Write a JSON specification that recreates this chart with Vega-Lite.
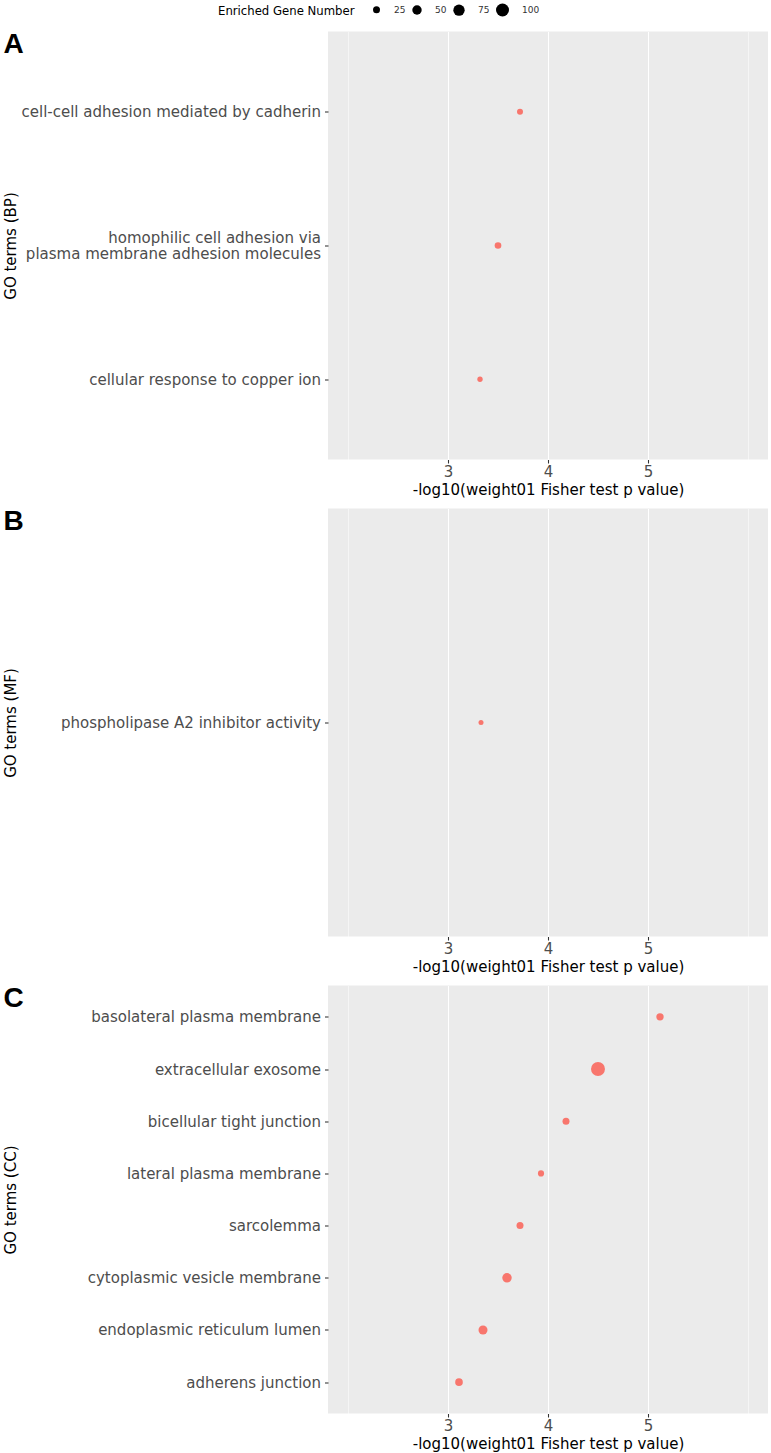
{
  "$schema": "https://vega.github.io/schema/vega-lite/v6.json",
  "autosize": {"type": "pad"},
  "padding": {"left": 3, "top": 3.5, "right": 0, "bottom": 0},
  "background": "white",
  "config": {
    "font": "DejaVu Sans",
    "view": {"fill": "#EBEBEB", "stroke": null},
    "legend": {"symbolBaseFillColor": "#000000", "symbolBaseStrokeColor": "#000000"},
    "axis": {
      "labelFont": "DejaVu Sans",
      "labelFontSize": 15,
      "labelColor": "#4D4D4D",
      "titleFont": "DejaVu Sans",
      "titleFontSize": 15,
      "titleFontWeight": "normal",
      "titleColor": "#000000",
      "tickColor": "#333333",
      "tickWidth": 1.07,
      "tickSize": 3.5,
      "domain": false,
      "gridColor": "#FFFFFF",
      "gridWidth": 1.07,
      "gridOpacity": 1
    }
  },
  "datasets": {
    "go": [
      {"panel": "BP", "term": "cell-cell adhesion mediated by cadherin", "score": 3.72, "genes": 17},
      {"panel": "BP", "term": "homophilic cell adhesion via\nplasma membrane adhesion molecules", "score": 3.50, "genes": 22},
      {"panel": "BP", "term": "cellular response to copper ion", "score": 3.32, "genes": 12},
      {"panel": "MF", "term": "phospholipase A2 inhibitor activity", "score": 3.33, "genes": 10},
      {"panel": "CC", "term": "basolateral plasma membrane", "score": 5.12, "genes": 28},
      {"panel": "CC", "term": "extracellular exosome", "score": 4.50, "genes": 116},
      {"panel": "CC", "term": "bicellular tight junction", "score": 4.18, "genes": 25},
      {"panel": "CC", "term": "lateral plasma membrane", "score": 3.93, "genes": 18},
      {"panel": "CC", "term": "sarcolemma", "score": 3.72, "genes": 25},
      {"panel": "CC", "term": "cytoplasmic vesicle membrane", "score": 3.59, "genes": 50},
      {"panel": "CC", "term": "endoplasmic reticulum lumen", "score": 3.35, "genes": 45},
      {"panel": "CC", "term": "adherens junction", "score": 3.11, "genes": 31}
    ]
  },
  "spacing": 10,
  "resolve": {"scale": {"size": "shared", "color": "shared"}, "legend": {"size": "shared"}},
  "vconcat": [
    {
      "title": {"text": "A", "anchor": "start", "frame": "bounds", "font": "Liberation Sans", "fontSize": 28, "fontWeight": "bold", "color": "#000000", "baseline": "top", "offset": -27},
      "width": 440,
      "height": 428,
      "data": {"name": "go"},
      "transform": [{"filter": "datum.panel == 'BP'"}],
      "mark": {"type": "point", "filled": true, "opacity": 1},
      "encoding": {
        "x": {
          "field": "score", "type": "quantitative",
          "scale": {"domain": [1.8, 6.2], "nice": false, "zero": false},
          "axis": {
            "title": "-log10(weight01 Fisher test p value)",
            "values": [2, 2.5, 3, 3.5, 4, 4.5, 5, 5.5, 6],
            "format": "d",
            "labelExpr": "(datum.value == 3 || datum.value == 4 || datum.value == 5) ? datum.label : ''",
            "gridWidth": {"condition": {"test": "datum.value == 3 || datum.value == 4 || datum.value == 5", "value": 1.07}, "value": 0.53},
            "tickOpacity": {"condition": {"test": "datum.value == 3 || datum.value == 4 || datum.value == 5", "value": 1}, "value": 0},
            "labelPadding": 1,
            "titlePadding": 3.5,
            "labelFlush": false,
            "labelOverlap": false
          }
        },
        "y": {
          "field": "term", "type": "nominal", "sort": null,
          "scale": {"type": "point", "padding": 0.6},
          "axis": {
            "title": "GO terms (BP)",
            "titleX": -312.5,
            "titleBaseline": "alphabetic",
            "labelPadding": 4,
            "labelLimit": 500,
            "labelExpr": "split(datum.label, '\\n')",
            "labelLineHeight": 16,
            "labelBaseline": "middle",
            "labelOffset": {"condition": {"test": "indexof(datum.label, '\\n') >= 0", "value": -8}, "value": 0}
          }
        },
        "color": {
          "field": "panel", "type": "nominal",
          "scale": {"domain": ["BP", "MF", "CC"], "range": ["#F8766D", "#F8766D", "#F8766D"]},
          "legend": null
        },
        "size": {
          "field": "genes", "type": "quantitative",
          "scale": {"domain": [0, 120], "range": [9, 201]},
          "legend": {
            "title": "Enriched Gene Number",
            "orient": "none", "legendX": -110, "legendY": -28,
            "direction": "horizontal", "titleOrient": "left",
            "titleAnchor": "middle", "titleBaseline": "middle",
            "values": [25, 50, 75, 100],
            "titleFontSize": 11.7, "titleFontWeight": "normal", "titleColor": "#000000",
            "labelFontSize": 9, "labelColor": "#333333",
            "labelOffset": 13, "columnPadding": 6, "titlePadding": 17,
            "symbolType": "circle", "symbolStrokeWidth": 0, "symbolOpacity": 1
          }
        }
      }
    },
    {
      "title": {"text": "B", "anchor": "start", "frame": "bounds", "font": "Liberation Sans", "fontSize": 28, "fontWeight": "bold", "color": "#000000", "baseline": "top", "offset": -27},
      "width": 440,
      "height": 428,
      "data": {"name": "go"},
      "transform": [{"filter": "datum.panel == 'MF'"}],
      "mark": {"type": "point", "filled": true, "opacity": 1},
      "encoding": {
        "x": {
          "field": "score", "type": "quantitative",
          "scale": {"domain": [1.8, 6.2], "nice": false, "zero": false},
          "axis": {
            "title": "-log10(weight01 Fisher test p value)",
            "values": [2, 2.5, 3, 3.5, 4, 4.5, 5, 5.5, 6],
            "format": "d",
            "labelExpr": "(datum.value == 3 || datum.value == 4 || datum.value == 5) ? datum.label : ''",
            "gridWidth": {"condition": {"test": "datum.value == 3 || datum.value == 4 || datum.value == 5", "value": 1.07}, "value": 0.53},
            "tickOpacity": {"condition": {"test": "datum.value == 3 || datum.value == 4 || datum.value == 5", "value": 1}, "value": 0},
            "labelPadding": 1,
            "titlePadding": 3.5,
            "labelFlush": false,
            "labelOverlap": false
          }
        },
        "y": {
          "field": "term", "type": "nominal", "sort": null,
          "scale": {"type": "point", "padding": 0.6},
          "axis": {
            "title": "GO terms (MF)",
            "titleX": -312.5,
            "titleBaseline": "alphabetic",
            "labelPadding": 4,
            "labelLimit": 500,
            "labelExpr": "split(datum.label, '\\n')",
            "labelLineHeight": 16,
            "labelBaseline": "middle",
            "labelOffset": {"condition": {"test": "indexof(datum.label, '\\n') >= 0", "value": -8}, "value": 0}
          }
        },
        "color": {
          "field": "panel", "type": "nominal",
          "scale": {"domain": ["BP", "MF", "CC"], "range": ["#F8766D", "#F8766D", "#F8766D"]},
          "legend": null
        },
        "size": {
          "field": "genes", "type": "quantitative",
          "scale": {"domain": [0, 120], "range": [9, 201]},
          "legend": {
            "title": "Enriched Gene Number",
            "orient": "none", "legendX": -110, "legendY": -28,
            "direction": "horizontal", "titleOrient": "left",
            "titleAnchor": "middle", "titleBaseline": "middle",
            "values": [25, 50, 75, 100],
            "titleFontSize": 11.7, "titleFontWeight": "normal", "titleColor": "#000000",
            "labelFontSize": 9, "labelColor": "#333333",
            "labelOffset": 13, "columnPadding": 6, "titlePadding": 17,
            "symbolType": "circle", "symbolStrokeWidth": 0, "symbolOpacity": 1
          }
        }
      }
    },
    {
      "title": {"text": "C", "anchor": "start", "frame": "bounds", "font": "Liberation Sans", "fontSize": 28, "fontWeight": "bold", "color": "#000000", "baseline": "top", "offset": -27},
      "width": 440,
      "height": 428,
      "data": {"name": "go"},
      "transform": [{"filter": "datum.panel == 'CC'"}],
      "mark": {"type": "point", "filled": true, "opacity": 1},
      "encoding": {
        "x": {
          "field": "score", "type": "quantitative",
          "scale": {"domain": [1.8, 6.2], "nice": false, "zero": false},
          "axis": {
            "title": "-log10(weight01 Fisher test p value)",
            "values": [2, 2.5, 3, 3.5, 4, 4.5, 5, 5.5, 6],
            "format": "d",
            "labelExpr": "(datum.value == 3 || datum.value == 4 || datum.value == 5) ? datum.label : ''",
            "gridWidth": {"condition": {"test": "datum.value == 3 || datum.value == 4 || datum.value == 5", "value": 1.07}, "value": 0.53},
            "tickOpacity": {"condition": {"test": "datum.value == 3 || datum.value == 4 || datum.value == 5", "value": 1}, "value": 0},
            "labelPadding": 1,
            "titlePadding": 3.5,
            "labelFlush": false,
            "labelOverlap": false
          }
        },
        "y": {
          "field": "term", "type": "nominal", "sort": null,
          "scale": {"type": "point", "padding": 0.6},
          "axis": {
            "title": "GO terms (CC)",
            "titleX": -312.5,
            "titleBaseline": "alphabetic",
            "labelPadding": 4,
            "labelLimit": 500,
            "labelExpr": "split(datum.label, '\\n')",
            "labelLineHeight": 16,
            "labelBaseline": "middle",
            "labelOffset": {"condition": {"test": "indexof(datum.label, '\\n') >= 0", "value": -8}, "value": 0}
          }
        },
        "color": {
          "field": "panel", "type": "nominal",
          "scale": {"domain": ["BP", "MF", "CC"], "range": ["#F8766D", "#F8766D", "#F8766D"]},
          "legend": null
        },
        "size": {
          "field": "genes", "type": "quantitative",
          "scale": {"domain": [0, 120], "range": [9, 201]},
          "legend": {
            "title": "Enriched Gene Number",
            "orient": "none", "legendX": -110, "legendY": -28,
            "direction": "horizontal", "titleOrient": "left",
            "titleAnchor": "middle", "titleBaseline": "middle",
            "values": [25, 50, 75, 100],
            "titleFontSize": 11.7, "titleFontWeight": "normal", "titleColor": "#000000",
            "labelFontSize": 9, "labelColor": "#333333",
            "labelOffset": 13, "columnPadding": 6, "titlePadding": 17,
            "symbolType": "circle", "symbolStrokeWidth": 0, "symbolOpacity": 1
          }
        }
      }
    }
  ]
}
